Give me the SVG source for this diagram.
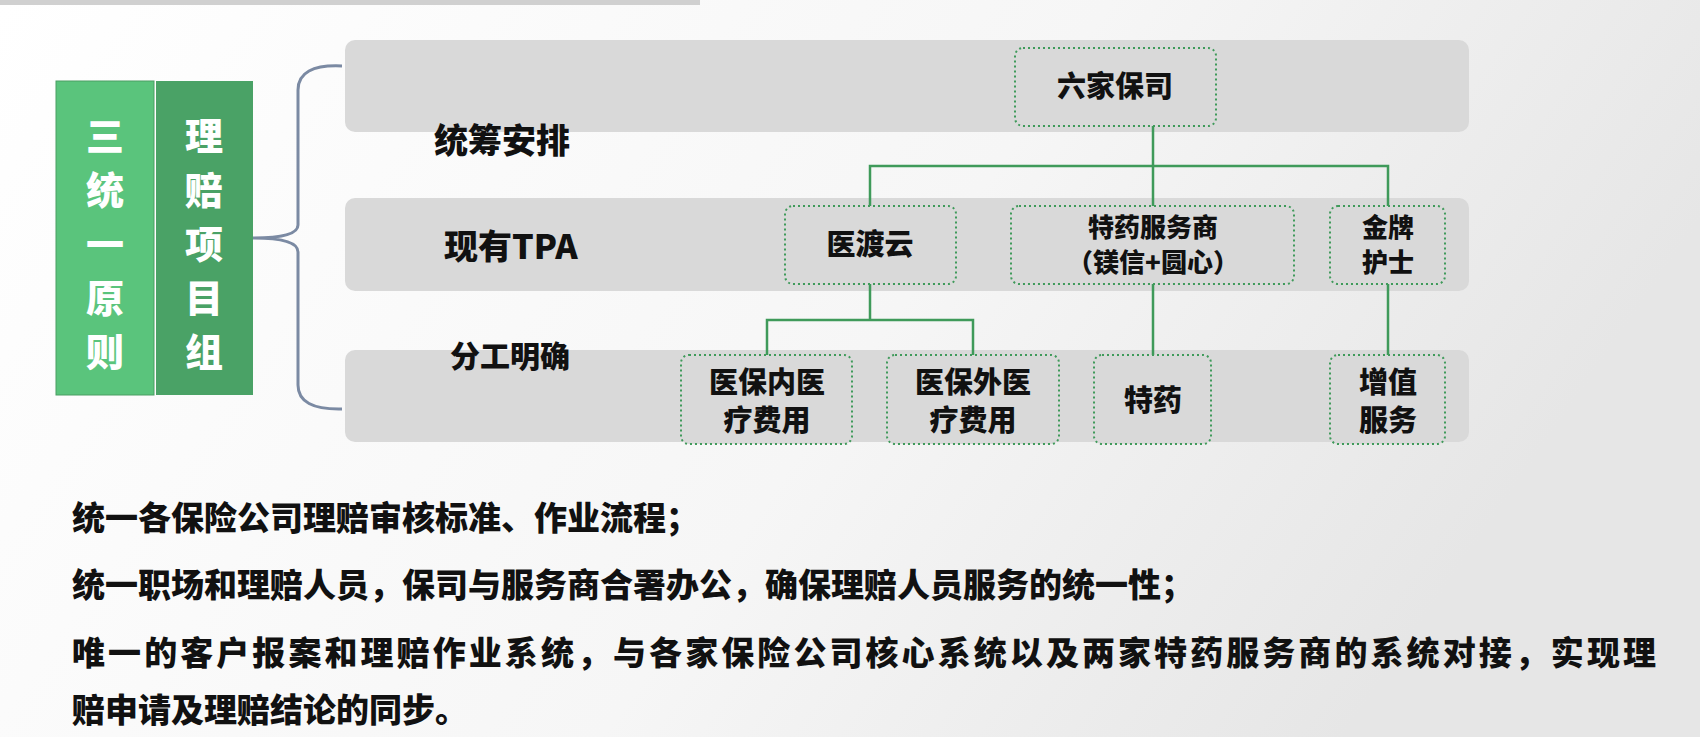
<svg xmlns="http://www.w3.org/2000/svg" width="1700" height="737" viewBox="0 0 1700 737">
<defs>
<linearGradient id="bg" x1="0" y1="0" x2="1" y2="0.3">
<stop offset="0" stop-color="#ffffff"/><stop offset="0.6" stop-color="#f6f6f6"/><stop offset="1" stop-color="#e6e6e6"/>
</linearGradient>
<style>
text{font-family:"Noto Sans CJK SC","Noto Sans",sans-serif;font-weight:900;fill:#111}
.band{fill:#d9d9d9}
.node{fill:#d9d9d9;stroke:#3f9a5a;stroke-width:2;stroke-dasharray:2 3}
.n{font-size:29px;text-anchor:middle}
.n2{font-size:26px;text-anchor:middle}
.lab{font-size:34px}
.big{font-size:38px;fill:#fff;text-anchor:middle}
.line{fill:none;stroke:#3f9a5a;stroke-width:2.5}
.b{font-size:33px}
</style>
</defs>
<rect width="1700" height="737" fill="url(#bg)"/>
<rect width="700" height="5" fill="#d0d0d0"/>
<g id="bands">
<rect class="band" x="345" y="40" width="1124" height="92" rx="10"/>
<rect class="band" x="345" y="198" width="1124" height="93" rx="10"/>
<rect class="band" x="345" y="350" width="1124" height="92" rx="10"/>
</g>
<g id="principle">
<rect x="56" y="81" width="98" height="314" fill="#5ac47c" stroke="#4a9e63" stroke-width="1"/>
<text class="big" x="105" y="150">三</text><text class="big" x="105" y="204">统</text><text class="big" x="105" y="258">一</text><text class="big" x="105" y="312">原</text><text class="big" x="105" y="366">则</text>
</g>
<g id="team">
<rect x="156" y="81" width="97" height="314" fill="#4aa266"/>
<text class="big" x="204" y="150">理</text><text class="big" x="204" y="204">赔</text><text class="big" x="204" y="258">项</text><text class="big" x="204" y="312">目</text><text class="big" x="204" y="366">组</text>
</g>
<path d="M342 66 Q298 64 298 90 L298 225 Q298 238 253 238 Q298 238 298 252 L298 385 Q298 410 342 409" fill="none" stroke="#7b8aa3" stroke-width="3"/>
<text class="lab" x="434" y="153">统筹安排</text>
<text class="lab" x="444" y="259">现有TPA</text>
<text class="lab" x="450" y="367" style="font-size:30px">分工明确</text>
<g id="connectors">
<path class="line" d="M1153 126 V166 M870 206 V166 H1388 V206 M1153 166 V206"/>
<path class="line" d="M870 284 V320 M767 355 V320 H973 V355"/>
<path class="line" d="M1153 284 V355 M1388 284 V355"/>
</g>
<g id="n-lj"><rect class="node" x="1015" y="48" width="201" height="78" rx="8"/><text class="n" x="1115" y="97">六家保司</text></g>
<g id="n-ydy"><rect class="node" x="785" y="206" width="171" height="78" rx="8"/><text class="n" x="870" y="255">医渡云</text></g>
<g id="n-ty"><rect class="node" x="1011" y="206" width="283" height="78" rx="8"/><text class="n2" x="1153" y="237">特药服务商</text><text class="n2" x="1153" y="272">（镁信+圆心）</text></g>
<g id="n-jp"><rect class="node" x="1330" y="206" width="115" height="78" rx="8"/><text class="n2" x="1388" y="237">金牌</text><text class="n2" x="1388" y="272">护士</text></g>
<g id="n-bn"><rect class="node" x="681" y="355" width="171" height="89" rx="8"/><text class="n" x="767" y="393">医保内医</text><text class="n" x="767" y="431">疗费用</text></g>
<g id="n-bw"><rect class="node" x="887" y="355" width="172" height="89" rx="8"/><text class="n" x="973" y="393">医保外医</text><text class="n" x="973" y="431">疗费用</text></g>
<g id="n-tyy"><rect class="node" x="1094" y="355" width="117" height="89" rx="8"/><text class="n" x="1153" y="411">特药</text></g>
<g id="n-zz"><rect class="node" x="1330" y="355" width="115" height="89" rx="8"/><text class="n" x="1388" y="393">增值</text><text class="n" x="1388" y="431">服务</text></g>
<text class="b" x="72" y="530">统一各保险公司理赔审核标准、作业流程；</text>
<text class="b" x="72" y="597">统一职场和理赔人员，保司与服务商合署办公，确保理赔人员服务的统一性；</text>
<text class="b" x="72" y="665" textLength="1584" lengthAdjust="spacing">唯一的客户报案和理赔作业系统，与各家保险公司核心系统以及两家特药服务商的系统对接，实现理</text>
<text class="b" x="72" y="722">赔申请及理赔结论的同步。</text>
</svg>
